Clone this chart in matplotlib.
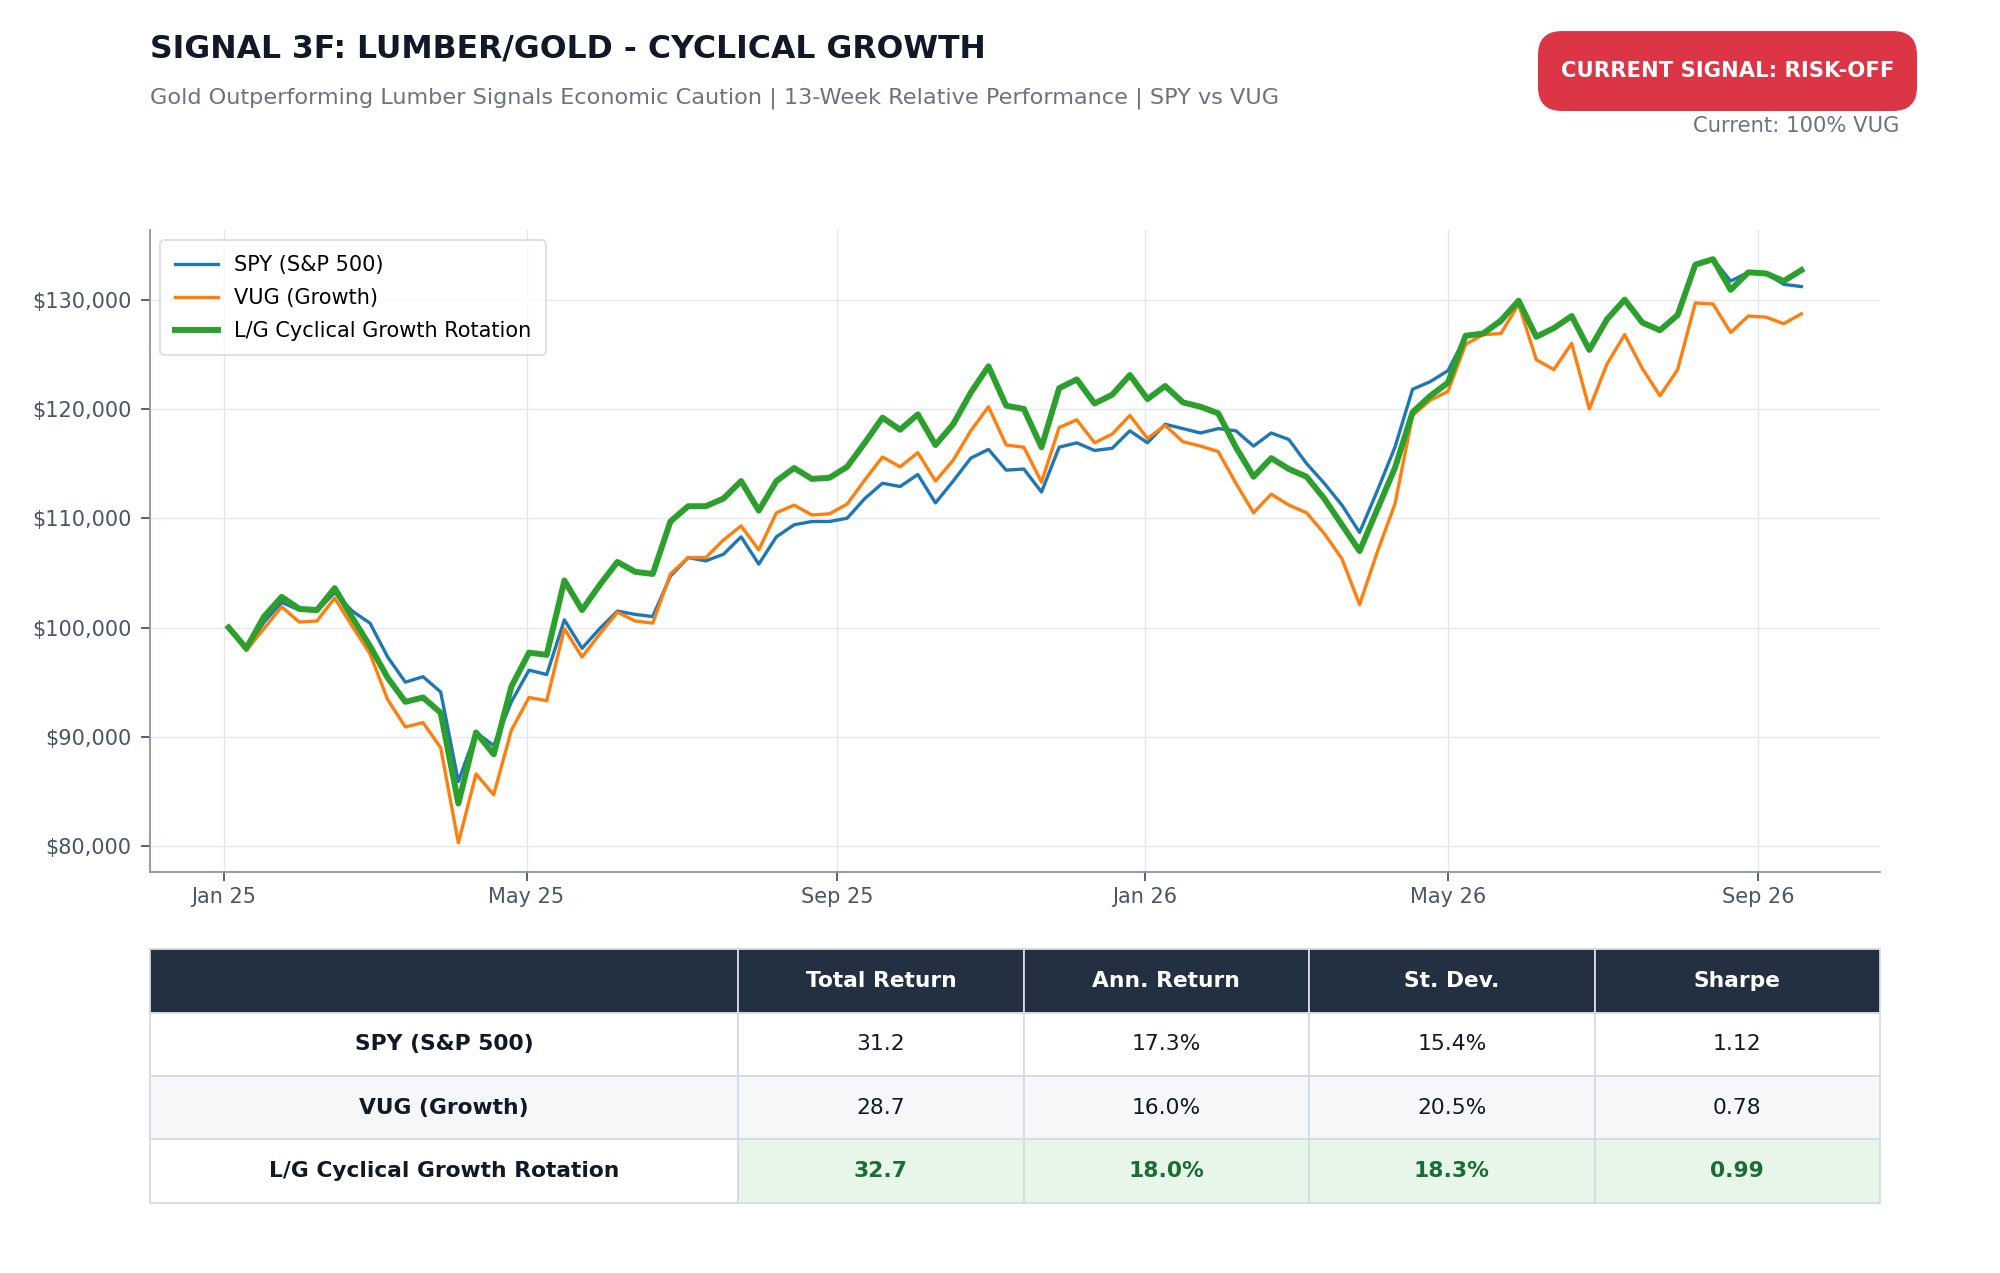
import matplotlib
matplotlib.use("Agg")
import matplotlib.pyplot as plt
import matplotlib.dates as mdates
from matplotlib.patches import FancyBboxPatch
from matplotlib.ticker import FuncFormatter
import pandas as pd

# weekly closes, portfolio value in $
dates = pd.date_range("2025-01-03", periods=90, freq="7D")

spy = [100000, 97900, 100500, 102300, 101600, 101500, 103200, 101500, 100400, 97300,
       95000, 95500, 94100, 85900, 90400, 89200, 93200, 96100, 95700, 100700,
       98100, 99900, 101500, 101200, 101000, 104700, 106400, 106100, 106700, 108300,
       105800, 108300, 109400, 109700, 109700, 110000, 111800, 113200, 112900, 114000,
       111400, 113400, 115500, 116300, 114400, 114500, 112400, 116500, 116900, 116200,
       116400, 118000, 116900, 118600, 118200, 117800, 118200, 118000, 116600, 117800,
       117200, 115000, 113200, 111200, 108700, 112500, 116500, 121800, 122500, 123500,
       126600, 126900, 127900, 129900, 126600, 127400, 128500, 125400, 128200, 130000,
       127900, 127200, 128600, 133200, 133700, 131700, 132500, 132400, 131400, 131200]

vug = [100000, 97900, 99900, 101900, 100500, 100600, 102700, 100100, 97600, 93400,
       90900, 91300, 89000, 80300, 86600, 84700, 90600, 93600, 93300, 99900,
       97300, 99400, 101400, 100600, 100400, 104900, 106400, 106400, 108000, 109300,
       107100, 110500, 111200, 110300, 110400, 111300, 113500, 115600, 114700, 116000,
       113400, 115300, 118000, 120200, 116700, 116500, 113300, 118300, 119000, 116900,
       117700, 119400, 117300, 118500, 117000, 116600, 116100, 113200, 110500, 112200,
       111200, 110500, 108600, 106300, 102100, 106900, 111300, 119400, 120800, 121600,
       125900, 126800, 126900, 129600, 124500, 123600, 126000, 120000, 124100, 126800,
       123700, 121200, 123600, 129700, 129600, 127000, 128500, 128400, 127800, 128700]

rotation = [100000, 98100, 101000, 102800, 101700, 101600, 103600, 100900, 98300, 95400,
            93200, 93600, 92200, 83900, 90400, 88400, 94600, 97700, 97500, 104300,
            101600, 103900, 106000, 105100, 104900, 109700, 111100, 111100, 111800, 113400,
            110700, 113400, 114600, 113600, 113700, 114700, 116900, 119200, 118100, 119500,
            116700, 118600, 121500, 123900, 120300, 120000, 116500, 121900, 122700, 120500,
            121300, 123100, 120900, 122100, 120600, 120200, 119600, 116500, 113800, 115500,
            114500, 113800, 111800, 109400, 107000, 110800, 114600, 119700, 121200, 122400,
            126700, 126900, 128100, 129900, 126600, 127400, 128500, 125400, 128200, 130000,
            127900, 127200, 128600, 133200, 133700, 130900, 132500, 132400, 131700, 132700]

row_labels = ["SPY (S&P 500)", "VUG (Growth)", "L/G Cyclical Growth Rotation"]
col_labels = ["", "Total Return", "Ann. Return", "St. Dev.", "Sharpe"]
total_ret = ["31.2", "28.7", "32.7"]
ann_ret = ["17.3%", "16.0%", "18.0%"]
st_dev = ["15.4%", "20.5%", "18.3%"]
sharpe = ["1.12", "0.78", "0.99"]

fig = plt.figure(figsize=(20, 12.73), dpi=100)

fig.text(0.075, 0.9545, "SIGNAL 3F: LUMBER/GOLD - CYCLICAL GROWTH", fontsize=22.7,
         fontweight="bold", color="#111827")
fig.text(0.075, 0.9185, "Gold Outperforming Lumber Signals Economic Caution | 13-Week Relative Performance | SPY vs VUG",
         fontsize=16.1, color="#6b7280")

# signal badge
badge = FancyBboxPatch((0.769, 0.9128), 0.1895, 0.0628, boxstyle="round,pad=0,rounding_size=0.012",
                       transform=fig.transFigure, facecolor="#dc3545", edgecolor="none",
                       mutation_aspect=2000 / 1273)
fig.patches.append(badge)
fig.text(0.8638, 0.9442, "CURRENT SIGNAL: RISK-OFF", fontsize=15.2, fontweight="bold",
         color="white", ha="center", va="center")
fig.text(0.9495, 0.901, "Current: 100% VUG", fontsize=15.2, color="#6b7280", ha="right", va="center")

ax = fig.add_axes([0.075, 0.315, 0.865, 0.5043])
ax.plot(dates, spy, color="#1f77b4", lw=2.4, label="SPY (S&P 500)")
ax.plot(dates, vug, color="#ff7f0e", lw=2.4, label="VUG (Growth)")
ax.plot(dates, rotation, color="#2ca02c", lw=4.3, label="L/G Cyclical Growth Rotation")

ax.xaxis.set_major_locator(mdates.MonthLocator(bymonth=[1, 5, 9]))
ax.xaxis.set_major_formatter(mdates.DateFormatter("%b %y"))
ax.yaxis.set_major_formatter(FuncFormatter(lambda v, p: f"${v:,.0f}"))
ax.grid(True, color="#e5e7eb", lw=1)
ax.set_axisbelow(True)
for s in ["top", "right"]:
    ax.spines[s].set_visible(False)
for s in ["left", "bottom"]:
    ax.spines[s].set_color("#8a94a6")
    ax.spines[s].set_linewidth(1.3)
ax.tick_params(colors="#4a5568", labelcolor="#4a5568", labelsize=15, length=6.5, width=1.3)
ax.tick_params(axis="x", pad=4)
ax.tick_params(axis="y", pad=7)

leg = ax.legend(loc="upper left", fontsize=15, frameon=True, fancybox=True, borderpad=0.7,
                handlelength=2.05, labelspacing=0.62)
leg.get_frame().set_edgecolor("#d5dbe3")
leg.get_frame().set_linewidth(1.5)

# stats table
tax = fig.add_axes([0.075, 0.055, 0.865, 0.1995])
tax.axis("off")
cells = [[row_labels[i], total_ret[i], ann_ret[i], st_dev[i], sharpe[i]] for i in range(3)]
tbl = tax.table(cellText=cells, colLabels=col_labels, bbox=[0, 0, 1, 1], cellLoc="center",
                colWidths=[0.34, 0.165, 0.165, 0.165, 0.165])
tbl.auto_set_font_size(False)
for (r, c), cell in tbl.get_celld().items():
    cell.set_edgecolor("#d5dbe3")
    cell.set_linewidth(1.3)
    txt = cell.get_text()
    txt.set_fontsize(15.7)
    if r == 0:
        cell.set_facecolor("#223041")
        txt.set_color("white")
        txt.set_fontweight("bold")
        continue
    bg = "#f5f7f9" if r == 2 else "white"
    txt.set_color("#111827")
    if c == 0:
        txt.set_fontweight("bold")
    if r == 3 and c > 0:
        bg = "#e8f5e9"
        txt.set_color("#1b6e33")
        txt.set_fontweight("bold")
    cell.set_facecolor(bg)

fig.savefig("out.png", dpi=100)
